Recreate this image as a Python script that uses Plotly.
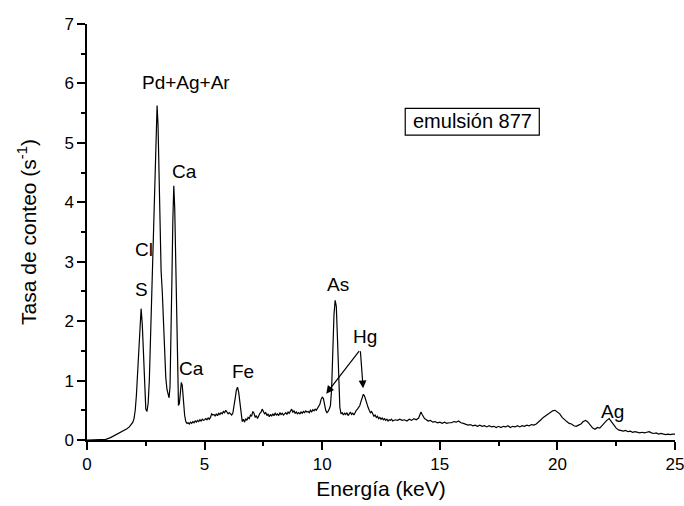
import plotly.graph_objects as go

# ---- data ----
energy_kev = [
    0.0, 0.6, 0.8, 1.0, 1.2, 1.4, 1.5, 1.6, 1.7, 1.8, 1.9, 1.95, 2.0, 2.05, 2.1, 2.15, 2.2, 2.25,
    2.30, 2.35, 2.40, 2.45, 2.50, 2.55, 2.60, 2.65, 2.70, 2.75, 2.80, 2.85, 2.90, 2.95, 2.98,
    3.02, 3.07, 3.12, 3.15, 3.20, 3.25, 3.30, 3.35, 3.40, 3.45, 3.49, 3.53, 3.57, 3.61, 3.65,
    3.69, 3.73, 3.77, 3.81, 3.85, 3.89, 3.93, 3.97, 4.01, 4.05, 4.10, 4.15, 4.20, 4.25, 4.30,
    4.35, 4.40, 4.45, 4.50, 4.55, 4.60, 4.65, 4.70, 4.75, 4.80, 4.85, 4.90, 4.95, 5.00, 5.05,
    5.10, 5.15, 5.20, 5.25, 5.30, 5.35, 5.40, 5.45, 5.50, 5.55, 5.60, 5.65, 5.70, 5.75, 5.80,
    5.85, 5.90, 5.95, 6.00, 6.05, 6.10, 6.15, 6.20, 6.25, 6.30, 6.35, 6.40, 6.45, 6.50, 6.55,
    6.60, 6.65, 6.70, 6.75, 6.80, 6.85, 6.90, 6.95, 7.00, 7.05, 7.10, 7.15, 7.20, 7.25, 7.30,
    7.35, 7.40, 7.45, 7.50, 7.55, 7.60, 7.65, 7.70, 7.75, 7.80, 7.85, 7.90, 7.95, 8.00, 8.05,
    8.10, 8.15, 8.20, 8.25, 8.30, 8.35, 8.40, 8.45, 8.50, 8.55, 8.60, 8.65, 8.70, 8.75, 8.80,
    8.85, 8.90, 8.95, 9.00, 9.05, 9.10, 9.15, 9.20, 9.25, 9.30, 9.35, 9.40, 9.45, 9.50, 9.55,
    9.60, 9.65, 9.70, 9.75, 9.80, 9.85, 9.90, 9.95, 10.00, 10.05, 10.10, 10.15, 10.20, 10.25,
    10.30, 10.35, 10.40, 10.45, 10.50, 10.55, 10.60, 10.65, 10.70, 10.75, 10.80, 10.85, 10.90,
    10.95, 11.00, 11.05, 11.10, 11.15, 11.20, 11.25, 11.30, 11.35, 11.40, 11.45, 11.50, 11.55,
    11.60, 11.65, 11.70, 11.75, 11.80, 11.85, 11.90, 11.95, 12.00, 12.05, 12.10, 12.15, 12.20,
    12.25, 12.30, 12.35, 12.40, 12.45, 12.50, 12.55, 12.60, 12.65, 12.70, 12.75, 12.80, 12.85,
    12.90, 12.95, 13.00, 13.10, 13.20, 13.30, 13.40, 13.50, 13.60, 13.70, 13.80, 13.90, 14.00,
    14.10, 14.15, 14.20, 14.25, 14.30, 14.35, 14.40, 14.50, 14.60, 14.70, 14.80, 14.90, 15.00,
    15.10, 15.20, 15.30, 15.40, 15.50, 15.60, 15.70, 15.80, 15.90, 16.00, 16.10, 16.20, 16.30,
    16.40, 16.50, 16.60, 16.70, 16.80, 16.90, 17.00, 17.10, 17.20, 17.30, 17.40, 17.50, 17.60,
    17.70, 17.80, 17.90, 18.00, 18.10, 18.20, 18.30, 18.40, 18.50, 18.60, 18.70, 18.80, 18.90,
    19.00, 19.10, 19.20, 19.30, 19.40, 19.50, 19.60, 19.70, 19.80, 19.90, 20.00, 20.10, 20.20,
    20.30, 20.40, 20.50, 20.60, 20.70, 20.80, 20.90, 21.00, 21.10, 21.20, 21.30, 21.40, 21.50,
    21.60, 21.70, 21.80, 21.90, 22.00, 22.10, 22.20, 22.30, 22.40, 22.50, 22.60, 22.70, 22.80,
    22.90, 23.00, 23.10, 23.20, 23.30, 23.40, 23.50, 23.60, 23.70, 23.80, 23.90, 24.00, 24.10,
    24.20, 24.30, 24.40, 24.50, 24.60, 24.70, 24.80, 24.90, 25.00,
]

count_rate = [
    0.00, 0.00, 0.01, 0.04, 0.08, 0.12, 0.15, 0.17, 0.19, 0.22, 0.27, 0.30, 0.36, 0.50, 0.75, 1.10, 1.55, 2.00,
    2.21, 1.95, 1.40, 0.85, 0.52, 0.48, 0.62, 1.00, 1.70, 2.55, 3.25, 3.90, 4.70, 5.45, 5.63,
    5.30, 4.20, 3.10, 2.85, 2.50, 1.90, 1.40, 1.05, 0.85, 0.74, 0.71, 0.90, 1.60, 2.70, 3.70,
    4.28, 3.90, 2.90, 1.80, 0.95, 0.58, 0.62, 0.85, 0.97, 0.92, 0.65, 0.42, 0.31, 0.28, 0.29,
    0.27, 0.30, 0.28, 0.31, 0.29, 0.32, 0.30, 0.33, 0.31, 0.34, 0.32, 0.35, 0.33, 0.34, 0.36,
    0.34, 0.37, 0.35, 0.38, 0.44, 0.42, 0.43, 0.40, 0.44, 0.41, 0.45, 0.43, 0.46, 0.44, 0.48,
    0.46, 0.50, 0.46, 0.44, 0.46, 0.43, 0.42, 0.45, 0.55, 0.70, 0.84, 0.89, 0.80, 0.62, 0.42,
    0.31, 0.35, 0.30, 0.36, 0.33, 0.38, 0.36, 0.42, 0.40, 0.48, 0.45, 0.38, 0.41, 0.36, 0.42,
    0.45, 0.47, 0.52, 0.48, 0.44, 0.46, 0.41, 0.44, 0.39, 0.43, 0.40, 0.44, 0.41, 0.45, 0.42,
    0.44, 0.41, 0.46, 0.43, 0.45, 0.42, 0.44, 0.46, 0.43, 0.47, 0.45, 0.50, 0.52, 0.47, 0.49,
    0.45, 0.47, 0.44, 0.46, 0.44, 0.47, 0.45, 0.48, 0.46, 0.49, 0.47, 0.48, 0.46, 0.50, 0.47,
    0.51, 0.49, 0.52, 0.50, 0.53, 0.55, 0.60, 0.68, 0.72, 0.70, 0.58, 0.50, 0.46, 0.48,
    0.52, 0.58, 0.85, 1.50, 2.10, 2.35, 2.25, 1.70, 1.00, 0.55, 0.44, 0.46, 0.42,
    0.45, 0.43, 0.46, 0.41, 0.44, 0.47, 0.43, 0.45, 0.42, 0.47, 0.50, 0.52, 0.55,
    0.58, 0.65, 0.72, 0.77, 0.74, 0.66, 0.62, 0.55, 0.50, 0.46, 0.48, 0.44, 0.40,
    0.42, 0.38, 0.40, 0.36, 0.38, 0.35, 0.37, 0.34, 0.36, 0.33, 0.35, 0.32, 0.34,
    0.33, 0.35, 0.32, 0.34, 0.33, 0.35, 0.33, 0.34, 0.32, 0.35, 0.33, 0.36, 0.34,
    0.37, 0.41, 0.47, 0.43, 0.38, 0.36, 0.35, 0.32, 0.33, 0.30, 0.31, 0.29, 0.30,
    0.28, 0.30, 0.28, 0.29, 0.29, 0.31, 0.30, 0.32, 0.29, 0.28, 0.27, 0.25, 0.26,
    0.24, 0.25, 0.23, 0.25, 0.23, 0.24, 0.22, 0.24, 0.22, 0.23, 0.21, 0.23, 0.21,
    0.23, 0.22, 0.24, 0.21, 0.23, 0.22, 0.24, 0.22, 0.24, 0.23, 0.25, 0.24, 0.26,
    0.25, 0.27, 0.30, 0.34, 0.38, 0.41, 0.44, 0.46, 0.49, 0.50, 0.47, 0.44, 0.38,
    0.34, 0.31, 0.28, 0.27, 0.24, 0.23, 0.25, 0.27, 0.31, 0.33, 0.30, 0.24, 0.20,
    0.18, 0.21, 0.20, 0.25, 0.30, 0.33, 0.36, 0.31, 0.24, 0.20, 0.17, 0.16, 0.15,
    0.16, 0.14, 0.15, 0.13, 0.14, 0.13, 0.12, 0.13, 0.12, 0.13, 0.14, 0.12, 0.11,
    0.12, 0.10, 0.11, 0.10, 0.09, 0.10, 0.09, 0.10, 0.10,
]

peak_labels = ["Pd+Ag+Ar", "Ca", "Cl", "S", "Ca", "Fe", "As", "Hg", "Ag"]
peak_label_kev = [4.21, 4.13, 2.42, 2.30, 4.44, 6.63, 10.68, 11.84, 22.34]
peak_label_rate = [6.01, 4.52, 3.21, 2.54, 1.20, 1.15, 2.61, 1.74, 0.48]

hg_arrow_from = (11.62, 1.52)
hg_arrow_to_kev = [10.17, 11.74]
hg_arrow_to_rate = [0.78, 0.87]

sample_name = "emulsión 877"
x_ticks = [0, 5, 10, 15, 20, 25]
y_ticks = [0, 1, 2, 3, 4, 5, 6, 7]

FONT = "Liberation Sans, Arial, sans-serif"

fig = go.Figure()
fig.add_trace(go.Scatter(
    x=energy_kev, y=count_rate, mode="lines",
    line=dict(color="black", width=1.2),
    showlegend=False, hoverinfo="skip", cliponaxis=False,
))

annotations = []
for txt, xv, yv in zip(peak_labels, peak_label_kev, peak_label_rate):
    annotations.append(dict(
        x=xv, y=yv, xref="x", yref="y", text=txt, showarrow=False,
        font=dict(family=FONT, size=19, color="black"),
        xanchor="center", yanchor="middle",
    ))

for xv, yv in zip(hg_arrow_to_kev, hg_arrow_to_rate):
    annotations.append(dict(
        x=xv, y=yv, xref="x", yref="y",
        ax=hg_arrow_from[0], ay=hg_arrow_from[1], axref="x", ayref="y",
        text="", showarrow=True, arrowhead=2, arrowsize=1.3, arrowwidth=1.2,
        arrowcolor="black", standoff=0, startstandoff=0,
    ))

annotations.append(dict(
    x=16.38, y=5.36, xref="x", yref="y", text=sample_name, showarrow=False,
    font=dict(family=FONT, size=20, color="black"),
    xanchor="center", yanchor="middle",
))

shapes = [dict(
    type="rect", xref="x", yref="y",
    x0=13.53, x1=19.23, y0=5.13, y1=5.58,
    line=dict(color="black", width=1.2), fillcolor="rgba(0,0,0,0)",
)]

axis_common = dict(
    showgrid=False, zeroline=False, showline=True, linecolor="black", linewidth=1.5,
    ticks="outside", ticklen=8, tickwidth=1.5, tickcolor="black",
    tickfont=dict(family=FONT, size=17, color="black"),
    mirror=False, automargin=False, ticklabeloverflow="allow",
)

fig.update_layout(
    width=684, height=506,
    margin=dict(l=87, r=9, t=24, b=66, autoexpand=False),
    paper_bgcolor="white", plot_bgcolor="white",
    annotations=annotations, shapes=shapes,
    xaxis=dict(
        range=[0, 25], tickvals=x_ticks, ticktext=[str(v) for v in x_ticks],
        minor=dict(dtick=2.5, tick0=0, ticks="outside", ticklen=4, tickwidth=1.5, tickcolor="black"),
        title=dict(text="Energía (keV)", font=dict(family=FONT, size=21, color="black"), standoff=8),
        **axis_common,
    ),
    yaxis=dict(
        range=[0, 7], tickvals=y_ticks, ticktext=[str(v) for v in y_ticks],
        minor=dict(dtick=0.5, tick0=0, ticks="outside", ticklen=4, tickwidth=1.5, tickcolor="black"),
        title=dict(text="Tasa de conteo (s<sup>-1</sup>)", font=dict(family=FONT, size=21, color="black"), standoff=22),
        **axis_common,
    ),
)

fig.write_html(
    "out.html",
    config={"displayModeBar": False},
    post_script="document.body.style.margin='0';document.body.style.overflow='hidden';",
)
